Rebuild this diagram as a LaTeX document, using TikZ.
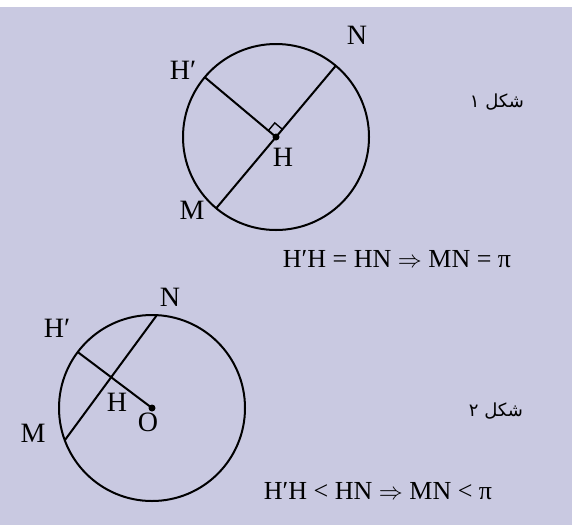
\documentclass[tikz,border=0pt]{standalone}
\usepackage{fontspec}
\setmainfont{Liberation Serif}
\newfontfamily\farsifont[Script=Arabic]{DejaVu Sans}
\TeXXeTstate=1
\usetikzlibrary{calc}
\definecolor{panelbg}{RGB}{201,201,225}

\begin{document}
\begin{tikzpicture}[x=0.5pt,y=-0.5pt,line width=1pt,
    lbl/.style={font=\fontsize{14}{16}\selectfont,inner sep=0pt},
    eqn/.style={font=\fontsize{13}{15}\selectfont,inner sep=0pt},
    capt/.style={font=\farsifont\fontsize{9}{11}\selectfont,inner sep=0pt},
    dot/.style={circle,fill,inner sep=0pt,minimum size=3.5pt}]
    % background panel
    \useasboundingbox (0,0) rectangle (572,525);
    \fill[white] (0,0) rectangle (572,525);
    \fill[panelbg] (0,7) rectangle (572,525);

%first circle: MN a diameter
    \coordinate (O1) at (276,137);
    \draw (O1) circle (93);
    \coordinate (N1) at ($(O1)+(-50:93)$);
    \coordinate (M1) at ($(O1)+(130:93)$);
    \coordinate (P1) at ($(O1)+(220:93)$);
    \draw (M1) -- (N1);
    \draw (P1) -- (O1);
    \draw[line width=0.7pt] ($(O1)+(-50:10)$) -- ++(220:10) -- ($(O1)+(220:10)$);
    \node[dot] (H1) at (O1) {};

    \node[lbl] (labN1) at (357,35) {N};
    \node[lbl] (labP1) at (183,70) {H′};
    \node[lbl] (labH1) at (283,157) {H};
    \node[lbl] (labM1) at (192,210) {M};
    \node[capt] (cap1) at (497,102) {\beginR شکل ۱\endR};
    \node[eqn] (eq1) at (397,259) {H′H = HN $\Rightarrow$ MN = π};

%second circle: MN a chord
    \coordinate (O2) at (152,408);
    \draw (O2) circle (93);
    \coordinate (N2) at ($(O2)+(-87:93)$);
    \coordinate (M2) at ($(O2)+(159.7:93)$);
    \coordinate (P2) at ($(O2)+(217:93)$);
    \draw (M2) -- (N2);
    \draw (P2) -- (O2);
    \node[dot] (dotO2) at (O2) {};

    \node[lbl] (labN2) at (170,297) {N};
    \node[lbl] (labP2) at (57,328) {H′};
    \node[lbl] (labH2) at (117,402) {H};
    \node[lbl] (labO2) at (148,422) {O};
    \node[lbl] (labM2) at (33,433) {M};
    \node[capt] (cap2) at (496,411) {\beginR شکل ۲\endR};
    \node[eqn] (eq2) at (378,491) {H′H < HN $\Rightarrow$ MN < π};

\end{tikzpicture}
\end{document}
